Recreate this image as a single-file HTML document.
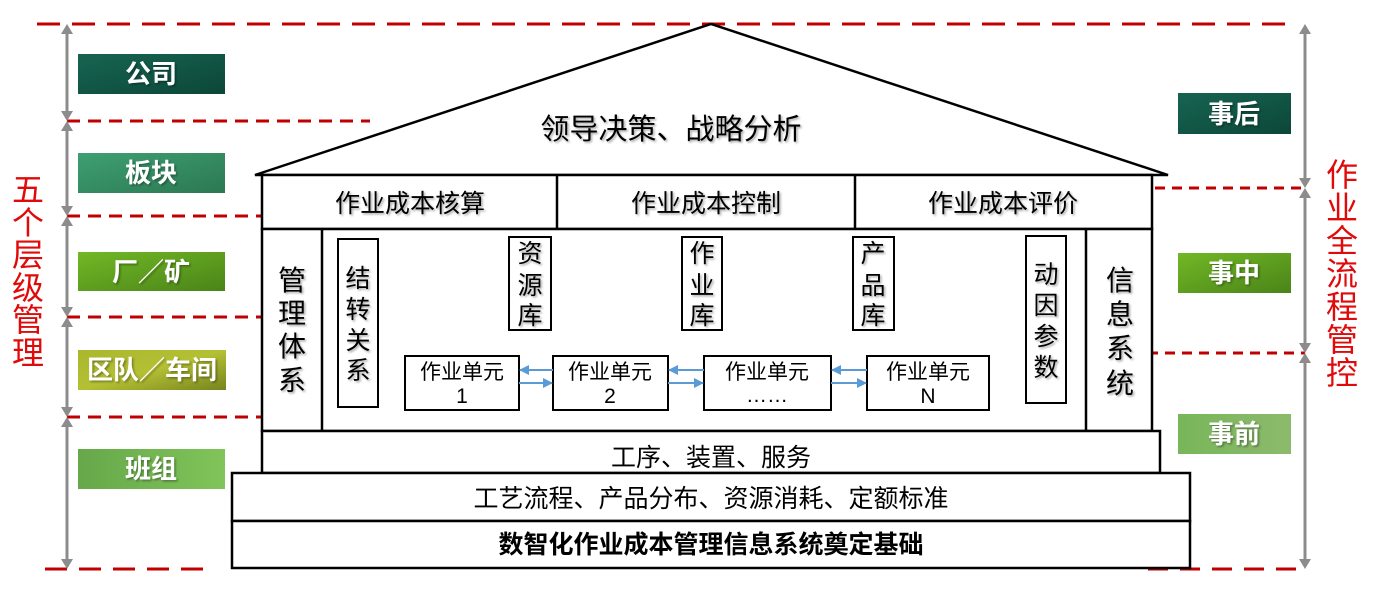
<!DOCTYPE html>
<html><head><meta charset="utf-8">
<style>
html,body{margin:0;padding:0;background:#fff;}
svg{display:block;}
text{font-family:"Liberation Sans","Noto Sans CJK SC",sans-serif;}
</style></head>
<body>
<svg width="1377" height="600" viewBox="0 0 1377 600" xmlns="http://www.w3.org/2000/svg">
<defs>
  <linearGradient id="g1" x1="0" y1="0" x2="1" y2="1"><stop offset="0" stop-color="#176452"/><stop offset="1" stop-color="#0c4738"/></linearGradient>
  <linearGradient id="g2" x1="0" y1="0" x2="1" y2="1"><stop offset="0" stop-color="#3ea072"/><stop offset="1" stop-color="#2c7852"/></linearGradient>
  <linearGradient id="g3" x1="0" y1="0" x2="1" y2="1"><stop offset="0" stop-color="#72b826"/><stop offset="1" stop-color="#4a8418"/></linearGradient>
  <linearGradient id="g4" x1="0" y1="0" x2="1" y2="1"><stop offset="0" stop-color="#aab62c"/><stop offset="0.5" stop-color="#b4c034"/><stop offset="1" stop-color="#76841e"/></linearGradient>
  <linearGradient id="g5" x1="0" y1="0" x2="1" y2="0"><stop offset="0" stop-color="#66a84a"/><stop offset="1" stop-color="#80c45a"/></linearGradient>
  <linearGradient id="g6" x1="0" y1="0" x2="1" y2="0"><stop offset="0" stop-color="#78b65a"/><stop offset="1" stop-color="#8cba6c"/></linearGradient>
  <filter id="sh" x="-10%" y="-10%" width="130%" height="130%"><feDropShadow dx="1.5" dy="1.5" stdDeviation="1" flood-color="#000" flood-opacity="0.35"/></filter>
  <marker id="ah" markerWidth="10" markerHeight="10" refX="9" refY="5" orient="auto" markerUnits="userSpaceOnUse"><path d="M0,0 L10,5 L0,10 z" fill="#5b9bd5"/></marker>
</defs>

<!-- red dashed lines -->
<g stroke="#c00000" stroke-width="3" fill="none">
  <line x1="37" y1="24" x2="1295" y2="24" stroke-dasharray="23 12"/>
  <line x1="67" y1="121" x2="370" y2="121" stroke-dasharray="13 8"/>
  <line x1="67" y1="216" x2="262" y2="216" stroke-dasharray="13 8"/>
  <line x1="67" y1="317" x2="262" y2="317" stroke-dasharray="13 8"/>
  <line x1="67" y1="417" x2="270" y2="417" stroke-dasharray="13 8"/>
  <line x1="45" y1="569" x2="205" y2="569" stroke-dasharray="22 12"/>
  <line x1="1155" y1="188" x2="1305" y2="188" stroke-dasharray="10 7"/>
  <line x1="1148" y1="353" x2="1305" y2="353" stroke-dasharray="10 7"/>
  <line x1="1148" y1="569" x2="1305" y2="569" stroke-dasharray="20 12"/>
</g>

<!-- grey arrows -->
<g stroke="#8c8c8c" stroke-width="3">
  <line x1="67" y1="30" x2="67" y2="115"/>
  <line x1="67" y1="127" x2="67" y2="210"/>
  <line x1="67" y1="222" x2="67" y2="311"/>
  <line x1="67" y1="323" x2="67" y2="411"/>
  <line x1="67" y1="423" x2="67" y2="563"/>
  <line x1="1305" y1="30" x2="1305" y2="182"/>
  <line x1="1305" y1="194" x2="1305" y2="347"/>
  <line x1="1305" y1="359" x2="1305" y2="563"/>
</g>
<g fill="#8c8c8c">
  <path d="M61,34 L67,24 L73,34 z"/>
  <path d="M61,111 L67,121 L73,111 z"/><path d="M61,131 L67,121 L73,131 z"/>
  <path d="M61,206 L67,216 L73,206 z"/><path d="M61,226 L67,216 L73,226 z"/>
  <path d="M61,307 L67,317 L73,307 z"/><path d="M61,327 L67,317 L73,327 z"/>
  <path d="M61,407 L67,417 L73,407 z"/><path d="M61,427 L67,417 L73,427 z"/>
  <path d="M61,559 L67,569 L73,559 z"/>
  <path d="M1299,34 L1305,24 L1311,34 z"/>
  <path d="M1299,178 L1305,188 L1311,178 z"/><path d="M1299,198 L1305,188 L1311,198 z"/>
  <path d="M1299,343 L1305,353 L1311,343 z"/><path d="M1299,363 L1305,353 L1311,363 z"/>
  <path d="M1299,559 L1305,569 L1311,559 z"/>
</g>

<!-- left labels -->
<rect x="78" y="54" width="147" height="40" fill="url(#g1)"/>
<rect x="78" y="153" width="147" height="40" fill="url(#g2)"/>
<rect x="78" y="252" width="147" height="39" fill="url(#g3)"/>
<rect x="78" y="350" width="148" height="40" fill="url(#g4)"/>
<rect x="78" y="449" width="147" height="40" fill="url(#g5)"/>
<g fill="#fff" font-size="26" font-weight="bold" text-anchor="middle" filter="url(#sh)">
  <text x="151" y="83">公司</text>
  <text x="151" y="182">板块</text>
  <text x="151" y="281">厂／矿</text>
  <text x="152" y="379">区队／车间</text>
  <text x="151" y="478">班组</text>
</g>

<!-- right labels -->
<rect x="1178" y="93" width="113" height="41" fill="url(#g1)"/>
<rect x="1178" y="253" width="113" height="40" fill="url(#g3)"/>
<rect x="1178" y="414" width="113" height="40" fill="url(#g6)"/>
<g fill="#fff" font-size="26" font-weight="bold" text-anchor="middle" filter="url(#sh)">
  <text x="1234" y="123">事后</text>
  <text x="1234" y="282">事中</text>
  <text x="1234" y="443">事前</text>
</g>

<!-- red vertical texts -->
<g fill="#e00a0a" font-size="32" text-anchor="middle">
  <text x="28" y="201">五</text>
  <text x="28" y="234">个</text>
  <text x="28" y="266">层</text>
  <text x="28" y="299">级</text>
  <text x="28" y="331">管</text>
  <text x="28" y="364">理</text>
  <text x="1342" y="186">作</text>
  <text x="1342" y="219">业</text>
  <text x="1342" y="252">全</text>
  <text x="1342" y="285">流</text>
  <text x="1342" y="318">程</text>
  <text x="1342" y="351">管</text>
  <text x="1342" y="384">控</text>
</g>

<!-- house -->
<g stroke="#000" stroke-width="2.5" fill="none">
  <path d="M255,175 L711,24 L1168,175 Z" fill="#fff"/>
  <rect x="262" y="175" width="890" height="54" fill="#fff"/>
  <line x1="557" y1="175" x2="557" y2="229"/>
  <line x1="855" y1="175" x2="855" y2="229"/>
  <rect x="262" y="229" width="890" height="202" fill="#fff"/>
  <line x1="322" y1="229" x2="322" y2="431"/>
  <line x1="1086" y1="229" x2="1086" y2="431"/>
  <rect x="262" y="431" width="898" height="42" fill="#fff"/>
  <rect x="232" y="473" width="958" height="48" fill="#fff"/>
  <rect x="232" y="521" width="958" height="47" fill="#fff"/>
</g>
<g stroke="#000" stroke-width="2" fill="#fff">
  <rect x="338" y="239" width="40" height="168"/>
  <rect x="509" y="237" width="42" height="93"/>
  <rect x="682" y="237" width="40" height="93"/>
  <rect x="853" y="237" width="41" height="93"/>
  <rect x="1026" y="236" width="40" height="167"/>
  <rect x="405" y="356" width="114" height="54"/>
  <rect x="553" y="356" width="115" height="54"/>
  <rect x="704" y="356" width="127" height="54"/>
  <rect x="867" y="356" width="122" height="54"/>
</g>

<!-- blue arrows -->
<g stroke="#5b9bd5" stroke-width="2" marker-end="url(#ah)">
  <line x1="553" y1="370" x2="520" y2="370"/>
  <line x1="519" y1="383" x2="552" y2="383"/>
  <line x1="704" y1="370" x2="669" y2="370"/>
  <line x1="668" y1="383" x2="703" y2="383"/>
  <line x1="867" y1="370" x2="832" y2="370"/>
  <line x1="831" y1="383" x2="866" y2="383"/>
</g>

<!-- house texts -->
<g fill="#000" text-anchor="middle" filter="url(#sh)">
  <text x="671" y="139" font-size="29">领导决策、战略分析</text>
  <text x="410" y="212" font-size="25">作业成本核算</text>
  <text x="706" y="212" font-size="25">作业成本控制</text>
  <text x="1003" y="212" font-size="25">作业成本评价</text>
  <g font-size="28">
    <text x="292" y="290">管</text><text x="292" y="323">理</text><text x="292" y="356">体</text><text x="292" y="390">系</text>
    <text x="1120" y="290">信</text><text x="1120" y="324">息</text><text x="1120" y="358">系</text><text x="1120" y="393">统</text>
  </g>
  <g font-size="25">
    <text x="358" y="287">结</text><text x="358" y="318">转</text><text x="358" y="349">关</text><text x="358" y="379">系</text>
    <text x="530" y="262">资</text><text x="530" y="294">源</text><text x="530" y="324">库</text>
    <text x="702" y="262">作</text><text x="702" y="294">业</text><text x="702" y="324">库</text>
    <text x="873" y="262">产</text><text x="873" y="294">品</text><text x="873" y="324">库</text>
    <text x="1046" y="283">动</text><text x="1046" y="314">因</text><text x="1046" y="345">参</text><text x="1046" y="376">数</text>
  </g>
</g>
<g fill="#000" text-anchor="middle" font-size="21">
  <text x="462" y="379">作业单元</text><text x="462" y="403">1</text>
  <text x="610" y="379">作业单元</text><text x="610" y="403">2</text>
  <text x="767" y="379">作业单元</text><text x="767" y="402">……</text>
  <text x="928" y="379">作业单元</text><text x="928" y="403">N</text>
</g>
<g fill="#000" text-anchor="middle" font-size="25">
  <text x="711" y="466">工序、装置、服务</text>
  <text x="711" y="507">工艺流程、产品分布、资源消耗、定额标准</text>
  <text x="711" y="553" font-weight="bold">数智化作业成本管理信息系统奠定基础</text>
</g>
</svg>
</body></html>
